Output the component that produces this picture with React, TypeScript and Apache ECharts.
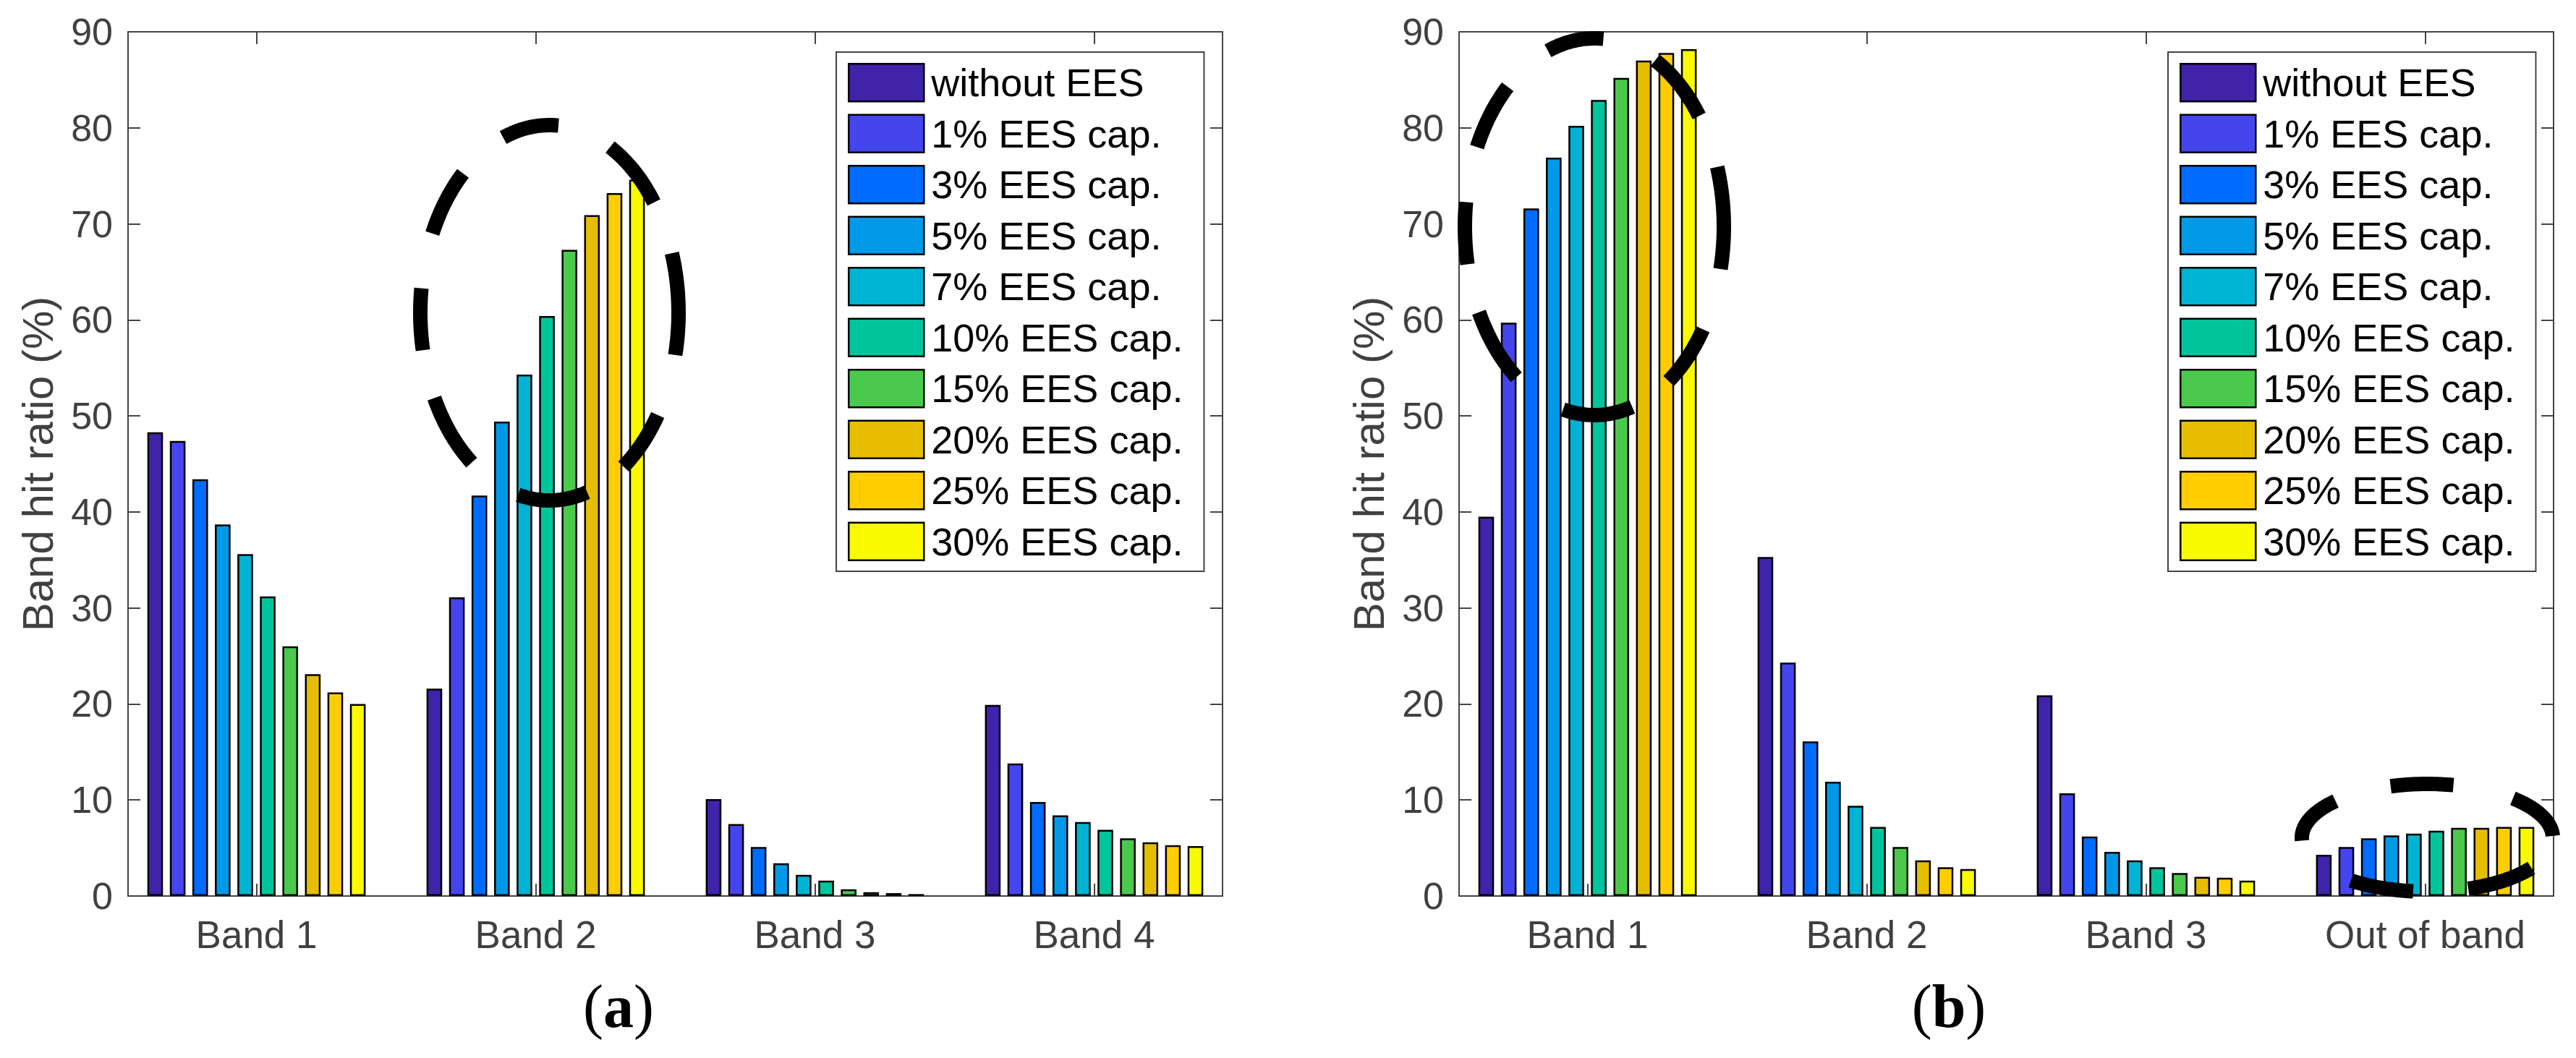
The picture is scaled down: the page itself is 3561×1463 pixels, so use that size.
import React, { useEffect, useRef } from 'react';
import * as echarts from 'echarts';

// ---- data ----
const seriesNames = ['without EES', '1% EES cap.', '3% EES cap.', '5% EES cap.', '7% EES cap.', '10% EES cap.', '15% EES cap.', '20% EES cap.', '25% EES cap.', '30% EES cap.'];
const seriesColors = ['#3f23a9', '#4545ee', '#006cff', '#0099e8', '#00b3d3', '#00c59c', '#4bc94d', '#e6bd00', '#ffcd00', '#f9f900'];

const categoriesA = ['Band 1', 'Band 2', 'Band 3', 'Band 4'];
const categoriesB = ['Band 1', 'Band 2', 'Band 3', 'Out of band'];

// panel (a): values per band, one per series (without EES, 1%, 3%, ... 30%)
const aBand1 = [48.3, 47.4, 43.4, 38.7, 35.6, 31.2, 26.0, 23.1, 21.2, 20.0];
const aBand2 = [21.6, 31.1, 41.7, 49.4, 54.3, 60.4, 67.3, 70.9, 73.2, 74.6];
const aBand3 = [10.1, 7.5, 5.1, 3.4, 2.2, 1.6, 0.7, 0.4, 0.3, 0.2];
const aBand4 = [19.9, 13.8, 9.8, 8.4, 7.7, 6.9, 6.0, 5.6, 5.3, 5.2];

// panel (b)
const bBand1 = [39.5, 59.7, 71.6, 76.9, 80.2, 82.9, 85.2, 87.0, 87.8, 88.2];
const bBand2 = [35.3, 24.3, 16.1, 11.9, 9.4, 7.2, 5.1, 3.7, 3.0, 2.8];
const bBand3 = [20.9, 10.7, 6.2, 4.6, 3.7, 3.0, 2.4, 2.0, 1.9, 1.6];
const bOutOfBand = [4.3, 5.1, 6.0, 6.3, 6.5, 6.8, 7.1, 7.1, 7.2, 7.2];

const yMin = 0;
const yMax = 90;
const yInterval = 10;
const yAxisTitle = 'Band hit ratio (%)';
const panelLabels = ['a', 'b'];

// ---- layout / style ----
const FONT = "'Liberation Sans', Arial, Helvetica, sans-serif";
const AXIS_COLOR = '#444444';
const TEXT_COLOR = '#404040';
const GRID_TOP = 44;
const GRID_H = 1195;
const GRID_W = 1513;
const GRID_LEFTS = [177, 2017];
const X_MIN = 0.54;
const X_MAX = 4.46;
const catPositions = [1, 2, 3, 4];

// dashed annotation ellipses: dash angle ranges (degrees)
const bigDashes: [number, number][] = [[86, 111], [36, 62], [-13, 18.5], [-55, -33], [-104, -73], [-153, -127], [172.5, 191.5], [132, 155]];
const smallDashes: [number, number][] = [[78, 107], [2, 47], [-71, -34], [-127.5, -96.5], [137, 183]];

function ellipseDashes(cx: number, cy: number, rx: number, ry: number, dashes: [number, number][]) {
  return dashes.map(([a0, a1]) => {
    const pts: number[][] = [];
    const n = Math.max(8, Math.ceil(Math.abs(a1 - a0) / 1.5));
    for (let k = 0; k <= n; k++) {
      const t = ((a0 + ((a1 - a0) * k) / n) * Math.PI) / 180;
      pts.push([cx + rx * Math.cos(t), cy - ry * Math.sin(t)]);
    }
    return {
      type: 'polyline',
      z: 100,
      silent: true,
      shape: { points: pts },
      style: { stroke: '#000', lineWidth: 20, fill: null, lineCap: 'butt', lineJoin: 'round' },
    };
  });
}

function buildOption() {
  const panels = [
    { cats: categoriesA, bands: [aBand1, aBand2, aBand3, aBand4] },
    { cats: categoriesB, bands: [bBand1, bBand2, bBand3, bOutOfBand] },
  ];

  const grid = GRID_LEFTS.map((left) => ({ left, top: GRID_TOP, width: GRID_W, height: GRID_H, containLabel: false }));

  const lineStyle = { color: AXIS_COLOR, width: 2 };
  const xAxis: any[] = [];
  const yAxis: any[] = [];
  panels.forEach((p, gi) => {
    xAxis.push({
      type: 'value', gridIndex: gi, position: 'bottom', min: X_MIN, max: X_MAX,
      axisLine: { show: true, onZero: false, lineStyle },
      axisTick: { show: true, inside: true, length: 17, customValues: catPositions, lineStyle },
      axisLabel: {
        show: true, customValues: catPositions, margin: 27,
        formatter: (v: number) => p.cats[Math.round(v) - 1] ?? '',
        fontSize: 53, color: TEXT_COLOR, fontFamily: FONT,
      },
      splitLine: { show: false },
    });
    xAxis.push({
      type: 'value', gridIndex: gi, position: 'top', min: X_MIN, max: X_MAX,
      axisLine: { show: true, onZero: false, lineStyle },
      axisTick: { show: true, inside: true, length: 17, customValues: catPositions, lineStyle },
      axisLabel: { show: false },
      splitLine: { show: false },
    });
    yAxis.push({
      type: 'value', gridIndex: gi, position: 'left', min: yMin, max: yMax, interval: yInterval,
      name: yAxisTitle, nameLocation: 'middle', nameGap: 95,
      nameTextStyle: { fontSize: 60, color: TEXT_COLOR, fontFamily: FONT },
      axisLine: { show: true, lineStyle },
      axisTick: { show: true, inside: true, length: 17, lineStyle },
      axisLabel: { show: true, margin: 21, fontSize: 52, color: TEXT_COLOR, fontFamily: FONT },
      splitLine: { show: false },
    });
    yAxis.push({
      type: 'value', gridIndex: gi, position: 'right', min: yMin, max: yMax, interval: yInterval,
      axisLine: { show: true, lineStyle },
      axisTick: { show: true, inside: true, length: 17, lineStyle },
      axisLabel: { show: false },
      splitLine: { show: false },
    });
  });

  const series: any[] = [];
  panels.forEach((p, gi) => {
    seriesNames.forEach((name, si) => {
      series.push({
        type: 'bar',
        name,
        xAxisIndex: gi * 2,
        yAxisIndex: gi * 2,
        barWidth: '5.6%',
        barGap: '44%',
        itemStyle: { color: seriesColors[si], borderColor: '#000', borderWidth: 2.5 },
        emphasis: { disabled: true },
        data: p.bands.map((band, ci) => [catPositions[ci], band[si]]),
      });
    });
  });

  const legendBase = {
    orient: 'vertical',
    top: 72,
    padding: [15, 29, 14, 16],
    itemWidth: 104,
    itemHeight: 52,
    itemGap: 16,
    icon: 'rect',
    backgroundColor: '#ffffff',
    borderColor: AXIS_COLOR,
    borderWidth: 2,
    borderRadius: 0,
    selectedMode: false,
    itemStyle: { borderColor: '#000', borderWidth: 2.5 },
    textStyle: { fontSize: 54, color: '#000', fontFamily: FONT, padding: [0, 0, 0, 5] },
    data: seriesNames,
    z: 20,
  };

  const graphicElements: any[] = [
    ...ellipseDashes(759.5, 432.5, 178.5, 259.5, bigDashes),
    ...ellipseDashes(2204, 313.5, 179, 260.5, bigDashes),
    ...ellipseDashes(3355.5, 1158.5, 173.5, 74.5, smallDashes),
  ];
  [855, 2694].forEach((x, i) => {
    graphicElements.push({
      type: 'text',
      z: 50,
      x,
      y: 1391,
      style: {
        text: `{p|(}{b|${panelLabels[i]}}{p|)}`,
        align: 'center',
        verticalAlign: 'middle',
        rich: {
          p: { fontSize: 84, fontWeight: 'normal', fontFamily: "'Liberation Serif', 'Times New Roman', serif", fill: '#000' },
          b: { fontSize: 84, fontWeight: 'bold', fontFamily: "'Liberation Serif', 'Times New Roman', serif", fill: '#000' },
        },
      },
    });
  });

  return {
    animation: false,
    backgroundColor: '#ffffff',
    grid,
    xAxis,
    yAxis,
    legend: [
      { ...legendBase, left: 1156 },
      { ...legendBase, left: 2997 },
    ],
    series,
    graphic: { elements: graphicElements },
  };
}

export default function App() {
  const ref = useRef<HTMLDivElement>(null);
  useEffect(() => {
    if (!ref.current) return;
    const chart = echarts.init(ref.current, undefined, { renderer: 'svg' });
    chart.setOption(buildOption() as any);
    return () => chart.dispose();
  }, []);
  return (
    <div
      ref={ref}
      style={{ position: 'absolute', left: 0, top: 0, width: 3561, height: 1463, background: '#fff' }}
    />
  );
}
